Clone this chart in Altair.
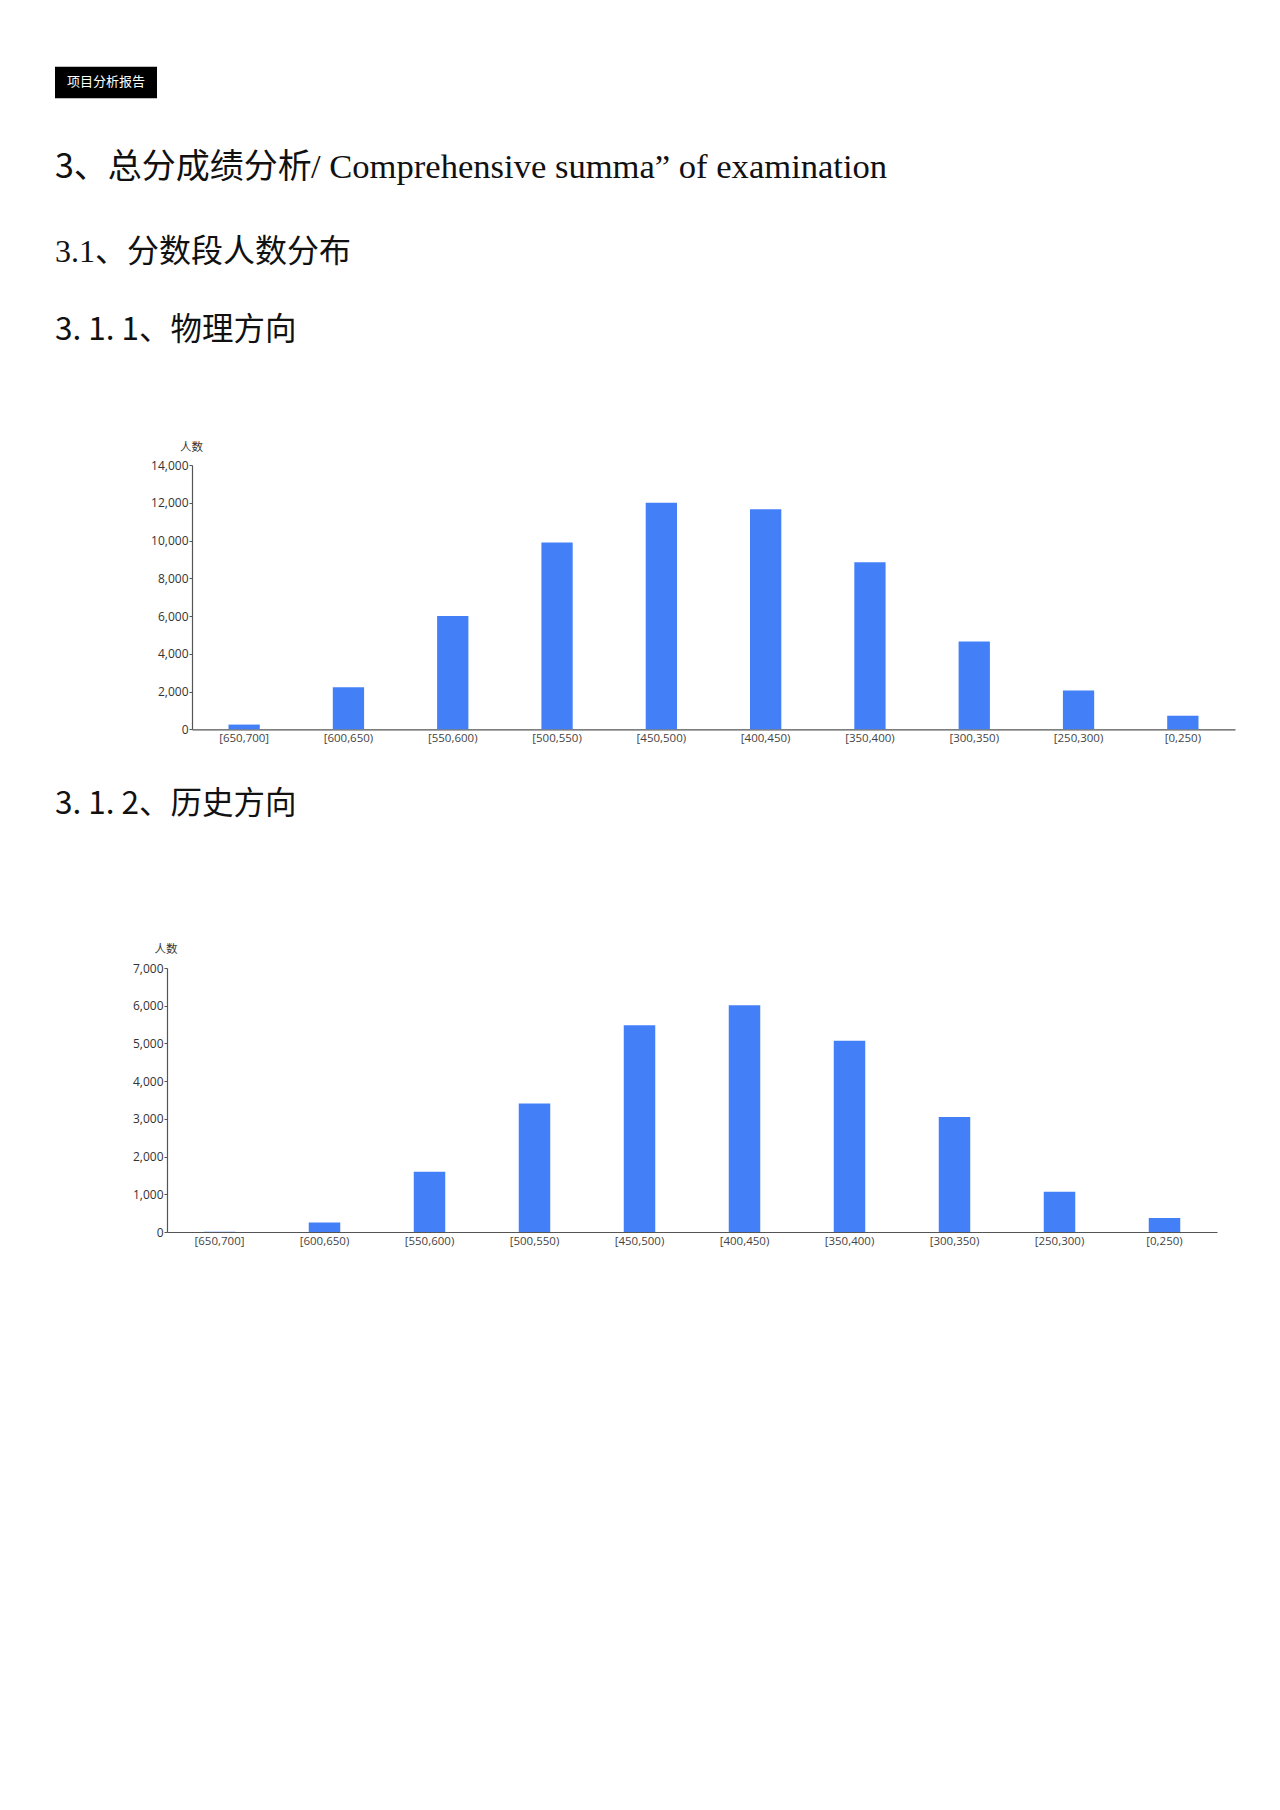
import altair as alt
import pandas as pd

# ---- data ----
score_bins = ["[650,700]", "[600,650)", "[550,600)", "[500,550)", "[450,500)",
              "[400,450)", "[350,400)", "[300,350)", "[250,300)", "[0,250)"]
physics_counts = [250, 2230, 6000, 9900, 12000, 11650, 8850, 4650, 2060, 720]
history_counts = [5, 255, 1600, 3410, 5480, 6010, 5070, 3050, 1065, 370]
physics_ticks = [0, 2000, 4000, 6000, 8000, 10000, 12000, 14000]
history_ticks = [0, 1000, 2000, 3000, 4000, 5000, 6000, 7000]

badge_text = "项目分析报告"
title_cn = "3、总分成绩分析"
title_en = "/ Comprehensive summa\u201d of examination"
sub_31 = "3.1、分数段人数分布"
sub_311 = "3. 1. 1、物理方向"
sub_312 = "3. 1. 2、历史方向"
y_title = "人数"

W, H = 1264, 1794
BAR = "#4380F8"
CJK = "Noto Sans CJK SC"
AX_FONT = "Open Sans"


def text_layer(txt, x, y, size, font, color="#111", align="left", baseline="middle"):
    return alt.Chart(pd.DataFrame({"t": [txt]})).mark_text(
        align=align, baseline=baseline, fontSize=size, font=font, color=color
    ).encode(x=alt.value(x), y=alt.value(y), text="t:N")


badge = alt.Chart(pd.DataFrame({"t": [badge_text]})).mark_rect(color="#000").encode(
    x=alt.value(47), x2=alt.value(149), y=alt.value(58.7), y2=alt.value(90.3)
)
badge_lbl = text_layer(badge_text, 98, 74, 13, CJK, color="#fff", align="center")

t1 = text_layer(title_cn, 47, 160, 34, CJK)
t2 = text_layer(title_en, 303, 160, 34.6, "Liberation Serif")
t3 = text_layer(sub_31, 47, 244, 32, f'Liberation Serif, "{CJK}"')
t4 = text_layer(sub_311, 47, 323, 31.5, CJK)
t5 = text_layer(sub_312, 47, 797, 31.5, CJK)

yt1 = text_layer(y_title, 183.5, 440, 11.5, CJK, color="#333", align="center")
yt2 = text_layer(y_title, 158, 942, 11.5, CJK, color="#333", align="center")


def bar_layer(counts, ticks, x0, x1, y0, ytop, ymax):
    df = pd.DataFrame({"bin": score_bins, "count": counts})
    return alt.Chart(df).mark_bar(color=BAR).encode(
        x=alt.X(
            "bin:N",
            sort=score_bins,
            scale=alt.Scale(domain=score_bins, range=[x0, x1], paddingInner=0.7, paddingOuter=0.35),
            axis=alt.Axis(
                orient="bottom", offset=y0 - H, ticks=False, labelAngle=0, labelPadding=3,
                labelFontSize=11.5, labelFont=AX_FONT, labelColor="#444",
                domainColor="#555", domainWidth=1.2, title=None, grid=False,
            ),
        ),
        y=alt.Y(
            "count:Q",
            scale=alt.Scale(domain=[0, ymax], range=[y0, ytop], nice=False),
            axis=alt.Axis(
                orient="left", offset=-x0, values=ticks, format=",d",
                tickSize=3, tickColor="#555", domainColor="#555", domainWidth=1.2,
                labelFontSize=12, labelFont=AX_FONT, labelColor="#333", labelPadding=1,
                title=None, grid=False,
            ),
        ),
    )


bars1 = bar_layer(physics_counts, physics_ticks, 184, 1227, 721.3, 457, 14000)
bars2 = bar_layer(history_counts, history_ticks, 159, 1209, 1224, 960, 7000)

chart = (
    alt.layer(badge, badge_lbl, t1, t2, t3, t4, t5, yt1, yt2, bars1, bars2)
    .resolve_scale(x="independent", y="independent")
    .resolve_axis(x="independent", y="independent")
    .properties(width=W, height=H, padding=0, autosize=alt.AutoSizeParams(type="none"),
                background="#ffffff")
    .configure_view(strokeWidth=0)
)

chart.save("out.html", embed_options={"renderer": "svg", "actions": False})
